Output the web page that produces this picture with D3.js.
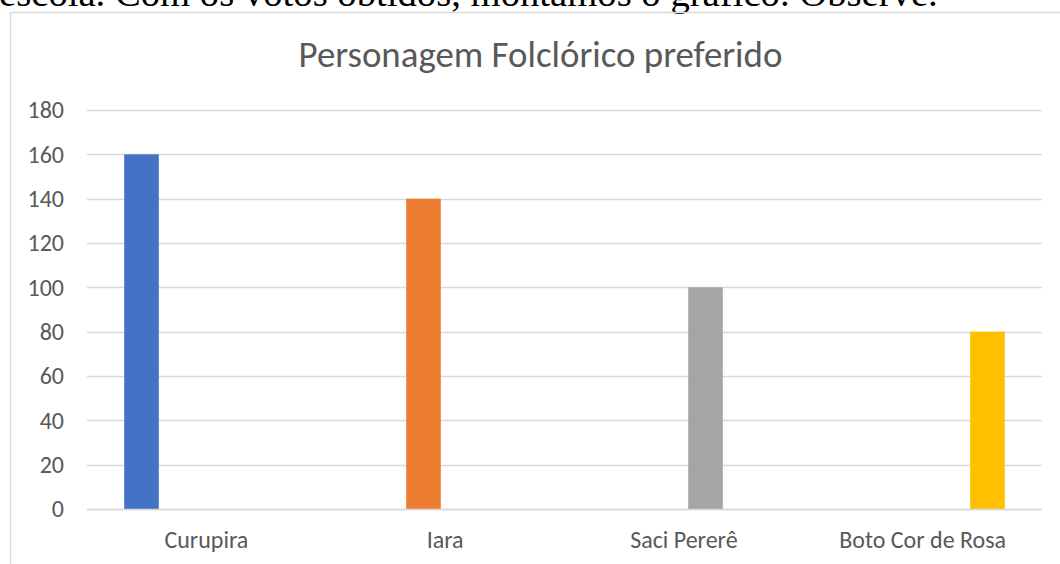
<!DOCTYPE html>
<html>
<head>
<meta charset="utf-8">
<script src="https://cdn.jsdelivr.net/npm/d3@7"></script>
<style>
  body { margin: 0; background: #fff; }
  svg { display: block; }
</style>
</head>
<body>
<svg id="chart" width="1060" height="564"></svg>
<script>
const introText = 'escola. Com os votos obtidos, montamos o gráfico. Observe.'
const title = 'Personagem Folclórico preferido'
const categories = ['Curupira', 'Iara', 'Saci Pererê', 'Boto Cor de Rosa']
// one series per character, each only has a value in its own category
const seriesNames = ['Curupira', 'Iara', 'Saci Pererê', 'Boto Cor de Rosa']
const votos = [160, 140, 100, 80]
const colors = ['#4472C4', '#ED7D31', '#A5A5A5', '#FFC000']
const yTicks = [0, 20, 40, 60, 80, 100, 120, 140, 160, 180]

const width = 1060
const height = 564
const plot = { left: 87, right: 1042, top: 110, bottom: 509 }
const font = 'Calibri, Carlito, "Open Sans", sans-serif'
const labelSize = 24

const svg = d3.select('#chart')

// text of the page above the chart, cut at the top
const intro = svg.append('text')
  .attr('x', -1)
  .attr('y', 6)
  .attr('font-family', '"Liberation Serif", "Times New Roman", serif')
  .attr('font-size', 31)
  .attr('fill', '#000')
  .text(introText)
const introLen = intro.node().getComputedTextLength()
intro.attr('font-size', 31 * 939 / introLen)

// chart area border (only left and top are inside the picture)
svg.append('path')
  .attr('d', `M10.5,${height} V12.5 H${width}`)
  .attr('fill', 'none')
  .attr('stroke', '#D9D9D9')
  .attr('stroke-width', 1.5)

const x = d3.scaleBand()
  .domain(categories)
  .range([plot.left, plot.right])
  .padding(0)

const xs = d3.scaleBand()
  .domain(seriesNames)
  .range([0, x.bandwidth()])
  .paddingInner(0.2)
  .paddingOuter(0.86)

const y = d3.scaleLinear()
  .domain([0, 180])
  .range([plot.bottom, plot.top])

// gridlines
svg.append('g')
  .attr('class', 'grid')
  .selectAll('line')
  .data(yTicks)
  .enter().append('line')
  .attr('x1', plot.left)
  .attr('x2', plot.right)
  .attr('y1', d => Math.round(y(d)) + 0.5)
  .attr('y2', d => Math.round(y(d)) + 0.5)
  .attr('stroke', '#D9D9D9')
  .attr('stroke-width', 1.5)

// y axis labels
const yAxis = svg.append('g')
  .attr('transform', 'translate(64,0)')
  .call(d3.axisLeft(y).tickValues(yTicks).tickSize(0).tickPadding(0))
yAxis.select('.domain').remove()
yAxis.selectAll('text')
  .attr('font-family', font)
  .attr('font-size', labelSize)
  .attr('fill', '#595959')

// bars
svg.append('g')
  .selectAll('rect')
  .data(votos)
  .enter().append('rect')
  .attr('x', (d, i) => x(categories[i]) + xs(seriesNames[i]))
  .attr('y', d => y(d))
  .attr('width', xs.bandwidth())
  .attr('height', d => y(0) - y(d))
  .attr('fill', (d, i) => colors[i])

// redraw the baseline on top of the bars
svg.append('line')
  .attr('x1', plot.left)
  .attr('x2', plot.right)
  .attr('y1', Math.round(y(0)) + 0.5)
  .attr('y2', Math.round(y(0)) + 0.5)
  .attr('stroke', '#D9D9D9')
  .attr('stroke-width', 1.5)

// category labels
const xAxis = svg.append('g')
  .attr('transform', `translate(0,${plot.bottom})`)
  .call(d3.axisBottom(x).tickSize(0).tickPadding(22))
xAxis.select('.domain').remove()
xAxis.selectAll('text')
  .attr('font-family', font)
  .attr('font-size', labelSize)
  .attr('fill', '#595959')

// title
const t = svg.append('text')
  .attr('x', (plot.left + plot.right) / 2 - 24)
  .attr('y', 67)
  .attr('text-anchor', 'middle')
  .attr('font-family', font)
  .attr('font-size', 31)
  .attr('fill', '#595959')
  .text(title)
const tLen = t.node().getComputedTextLength()
t.attr('font-size', 31 * 484 / tLen)
</script>
</body>
</html>
